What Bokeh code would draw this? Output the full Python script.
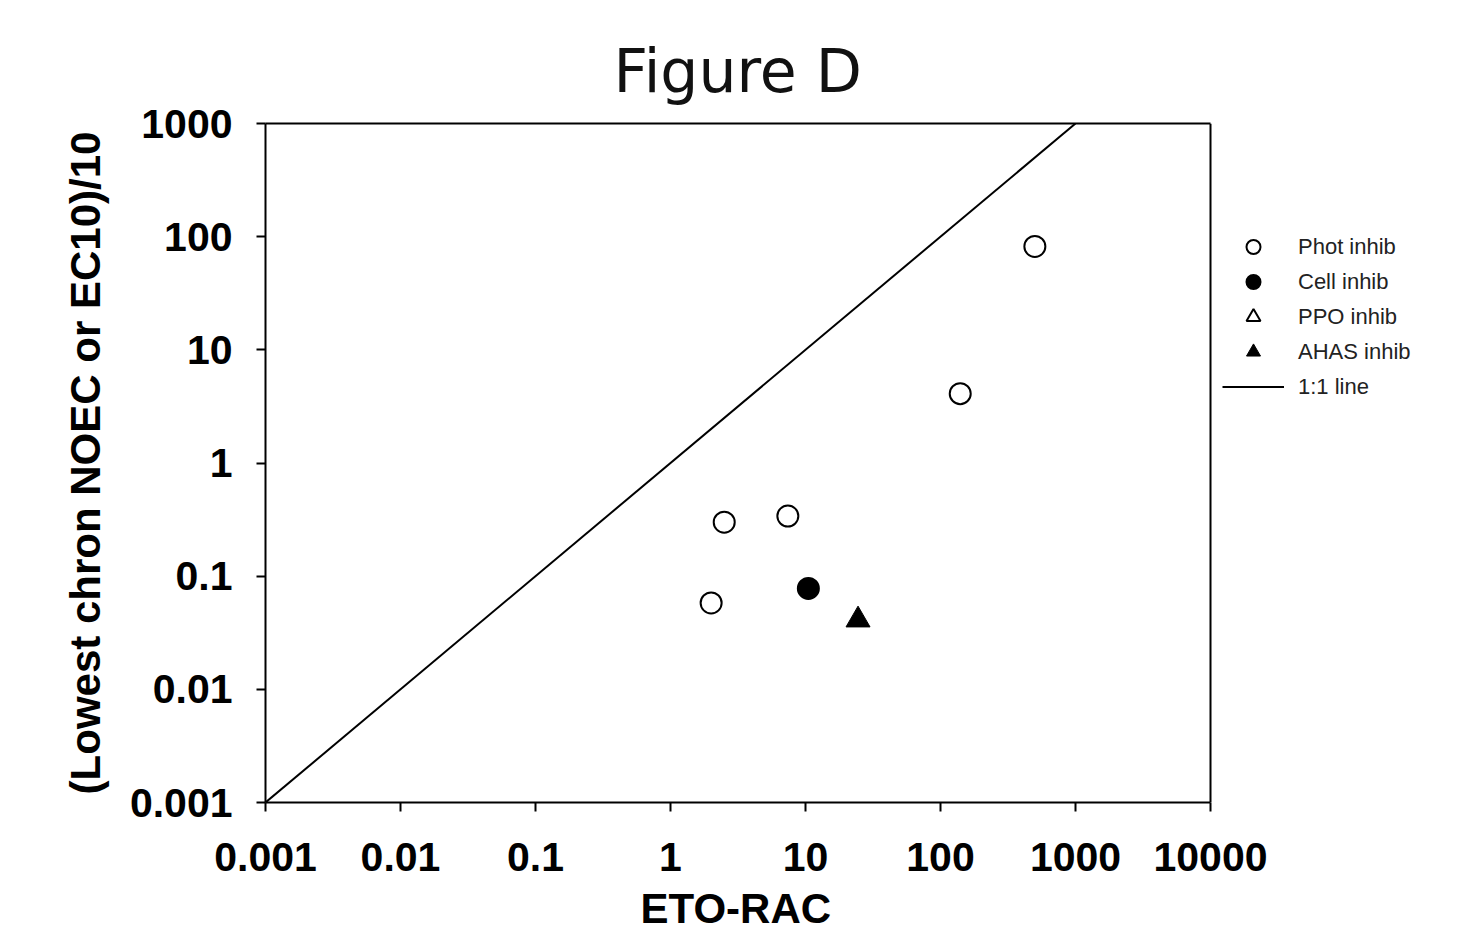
import math
from bokeh.plotting import figure
from bokeh.models import (FixedTicker, CustomJSTickFormatter, Legend, LegendItem,
                          LogAxis, Span, Title)
from bokeh.embed import file_html
from bokeh.resources import INLINE

nan = float("nan")

# ---- data ----
phot_x = [2.0, 2.5, 7.4, 140, 500]
phot_y = [0.058, 0.30, 0.34, 4.1, 82]
cell_x = [10.5]
cell_y = [0.078]
ppo_x = [nan]   # no PPO inhibitor points are shown
ppo_y = [nan]
ahas_x = [24.5]
ahas_y = [0.041]
line_x = [0.001, 1000]
line_y = [0.001, 1000]
x_ticks = [0.001, 0.01, 0.1, 1, 10, 100, 1000, 10000]
y_ticks = [0.001, 0.01, 0.1, 1, 10, 100, 1000]

FONT = "Liberation Sans"
W, H = 1475, 942
LEFT, TOP, BOTTOM = 265, 123, 802          # plot box edges (px)
BOX_RIGHT = 1210                           # right edge of the data box
FRAME_RIGHT = 1465                         # frame extends under the legend
dec_px = (BOX_RIGHT - LEFT) / (math.log10(x_ticks[-1]) - math.log10(x_ticks[0]))
x_end = 10 ** (math.log10(x_ticks[0]) + (FRAME_RIGHT - LEFT) / dec_px)

p = figure(width=W, height=H, x_axis_type="log", y_axis_type="log",
           x_range=(x_ticks[0], x_end), y_range=(y_ticks[0], y_ticks[-1]),
           output_backend="svg", toolbar_location=None,
           min_border_left=LEFT, min_border_right=W - FRAME_RIGHT,
           min_border_top=TOP, min_border_bottom=H - BOTTOM,
           title="Figure D")

p.title.text_font = "DejaVu Sans"
p.title.text_font_size = "60px"
p.title.text_font_style = "normal"
p.title.text_color = "#111111"
p.title.standoff = 36
p.title.align = "left"
p.title.offset = 613 - LEFT

p.background_fill_color = "white"
p.border_fill_color = "white"
p.outline_line_color = None
p.grid.visible = False

fmt = CustomJSTickFormatter(code="return tick.toString();")
for ax, ticks in ((p.xaxis[0], x_ticks), (p.yaxis[0], y_ticks)):
    ax.ticker = FixedTicker(ticks=ticks)
    ax.formatter = fmt
    ax.axis_line_width = 2
    ax.axis_line_color = "black"
    ax.major_tick_line_width = 2
    ax.major_tick_line_color = "black"
    ax.major_tick_out = 9
    ax.major_tick_in = 0
    ax.minor_tick_line_color = None
    ax.major_label_text_font = FONT
    ax.major_label_text_font_size = "41px"
    ax.major_label_text_font_style = "bold"
    ax.major_label_text_color = "black"
    ax.axis_label_text_font = FONT
    ax.axis_label_text_font_size = "42px"
    ax.axis_label_text_font_style = "bold"
    ax.axis_label_text_color = "black"
p.xaxis.bounds = (x_ticks[0], x_ticks[-1])

p.yaxis.axis_label = "(Lowest chron NOEC or EC10)/10"
p.xaxis.major_label_standoff = 31
p.yaxis.major_label_standoff = 24
p.yaxis.axis_label_standoff = 18

# x-axis title, centred under the data box (not under the extended frame)
x_title = Title(text="ETO-RAC", align="left", offset=640 - LEFT, standoff=18,
                text_font=FONT, text_font_size="42px", text_font_style="bold",
                text_color="black")
p.add_layout(x_title, "below")

# top edge of the box (axis line only) and right edge of the box
top_axis = LogAxis(bounds=(x_ticks[0], x_ticks[-1]), ticker=FixedTicker(ticks=[]),
                   axis_line_width=2, axis_line_color="black",
                   major_tick_line_color=None, minor_tick_line_color=None,
                   major_label_text_font_size="0px", major_label_standoff=0,
                   major_tick_out=0, major_tick_in=0)
p.add_layout(top_axis, "above")
p.add_layout(Span(location=x_ticks[-1], dimension="height",
                  line_color="black", line_width=2))

r_line = p.line(line_x, line_y, line_color="black", line_width=2)
r_phot = p.scatter(phot_x, phot_y, marker="circle", size=21, fill_color="white",
                   line_color="black", line_width=2)
r_cell = p.scatter(cell_x, cell_y, marker="circle", size=21, fill_color="black",
                   line_color="black", line_width=2)
r_ppo = p.scatter(ppo_x, ppo_y, marker="triangle", size=24, fill_color="white",
                  line_color="black", line_width=2)
r_ahas = p.scatter(ahas_x, ahas_y, marker="triangle", size=24, fill_color="black",
                   line_color="black", line_width=1)

legend = Legend(items=[
    LegendItem(label="Phot inhib", renderers=[r_phot]),
    LegendItem(label="Cell inhib", renderers=[r_cell]),
    LegendItem(label="PPO inhib", renderers=[r_ppo]),
    LegendItem(label="AHAS inhib", renderers=[r_ahas]),
    LegendItem(label="1:1 line", renderers=[r_line]),
], location=(1222 - LEFT, BOTTOM - 404))
legend.border_line_color = None
legend.background_fill_alpha = 0
legend.label_text_font = FONT
legend.label_text_font_size = "22px"
legend.label_text_color = "#222222"
legend.glyph_width = 62
legend.glyph_height = 35
legend.spacing = 0
legend.padding = 0
legend.margin = 0
legend.label_standoff = 14
legend.label_height = 35
p.add_layout(legend, "center")

open("out.html", "w").write(file_html(p, INLINE))
